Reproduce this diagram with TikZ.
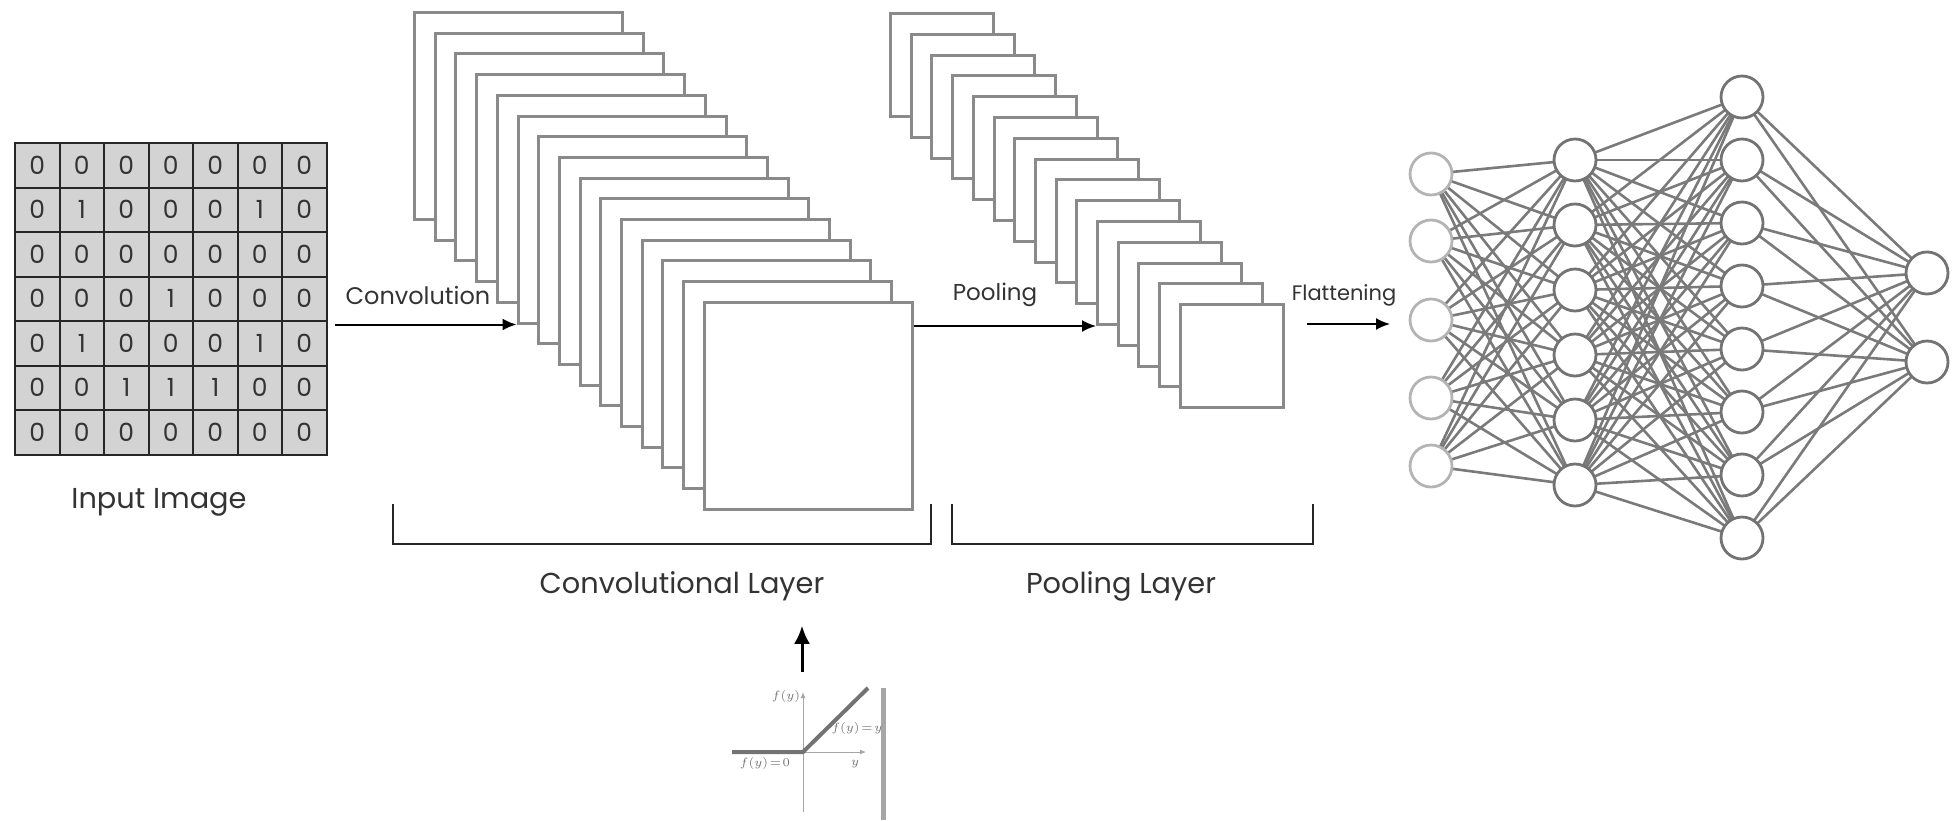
\documentclass[tikz,border=0pt]{standalone}
\usepackage{fontspec}
\setmainfont{Poppins}
\usetikzlibrary{arrows.meta}
\definecolor{mapgray}{HTML}{8A8A8A}
\definecolor{cellgray}{HTML}{D3D3D3}
\definecolor{wiregray}{HTML}{7A7A7A}
\definecolor{inputgray}{HTML}{B4B4B4}
\definecolor{textgray}{HTML}{333333}
\tikzset{
  fmap/.style={draw=mapgray, line width=1.5pt, fill=white, inner sep=0pt, anchor=north west},
  convmap/.style={fmap, minimum width=104pt, minimum height=103.5pt},
  poolmap/.style={fmap, minimum width=51.5pt, minimum height=51.5pt},
  cell/.style={draw=black!85, line width=1pt, fill=cellgray, minimum size=22.25pt, inner sep=0pt,
    font=\fontsize{12.5}{12.5}\selectfont, text=textgray},
  neuron/.style={circle, draw=black!55, line width=1.4pt, fill=white, minimum size=21pt, inner sep=0pt},
  synapse/.style={draw=wiregray, line width=1.3pt},
  flow/.style={-{Latex[length=7pt,width=6pt]}, line width=1pt},
  steplabel/.style={font=\fontsize{12}{12}\selectfont, text=textgray},
  layerlabel/.style={font=\fontsize{14.4}{14.4}\selectfont, text=textgray},
  bracket/.style={line width=1pt, black!85},
  relutext/.style={font=\fontsize{6.5}{6.5}\selectfont, text=black!55},
}
\begin{document}
\begin{tikzpicture}[x=0.5pt, y=-0.5pt]
  \useasboundingbox (0,0) rectangle (1952,820);
  % input image, 7x7 cells
  \foreach \row [count=\r from 0] in {{0,0,0,0,0,0,0},{0,1,0,0,0,1,0},{0,0,0,0,0,0,0},
      {0,0,0,1,0,0,0},{0,1,0,0,0,1,0},{0,0,1,1,1,0,0},{0,0,0,0,0,0,0}}
    \foreach \v [count=\c from 0] in \row
      \node[cell] (g-\r-\c) at ({37.25+44.5*\c},{165.25+44.5*\r}) {\v};
  \node[layerlabel] (inputlabel) at (159,502) {Input Image};
  % feature maps of the convolutional layer, back to front
  \foreach \k in {0,...,14}
    \node[convmap] (c\k) at ({413+20.7*\k},{11+20.7*\k}) {};
  % pooled maps
  \foreach \k in {0,...,14}
    \node[poolmap] (p\k) at ({889+20.7*\k},{12+20.8*\k}) {};
  \draw[flow, shorten <=3.5pt] (g-4-6.east |- c5.south west) -- (c5.south west);
  \draw[flow] (c14.east |- p10.south west) -- (p10.south west);
  \node[steplabel] (convlabel) at (418,295) {Convolution};
  \node[steplabel, font=\fontsize{11.5}{11.5}\selectfont] (poollabel) at (995,295) {Pooling};
  \node[steplabel, font=\fontsize{10.5}{10.5}\selectfont] (flatlabel) at (1344,295) {Flattening};
  \coordinate (flatstart) at (1307,324);
  \coordinate (flatend) at (1390,324);
  \draw[flow] (flatstart) -- (flatend);
  % brackets under the layers
  \draw[bracket] (393,504) -- (393,544) -- (931,544) -- (931,504);
  \draw[bracket] (952,504) -- (952,544) -- (1313,544) -- (1313,504);
  \node[layerlabel] (convlayer) at (682,586) {Convolutional Layer};
  \node[layerlabel] (poollayer) at (1121,586) {Pooling Layer};
  % ReLU inset
  \coordinate (origin) at (803,752);
  \coordinate (reluup) at (802,672);
  \draw[-{Latex[length=9pt,width=8pt]}, line width=1.5pt, shorten >=9pt] (reluup) -- (convlayer.south -| reluup);
  \draw[black!35, line width=0.5pt, -{Latex[length=3pt,width=2.5pt]}] (803,812) -- (803,692);
  \draw[black!35, line width=0.5pt, -{Latex[length=3pt,width=2.5pt]}] (732,752) -- (866,752);
  \draw[black!55, line width=2pt] (732,752) -- (origin) -- (868,688);
  \draw[black!35, line width=2.5pt] (883,688) -- (883,820);
  \node[relutext] (fy) at (786,696) {$f(y)$};
  \node[relutext] (fyy) at (857,728) {$f(y)\!=\!y$};
  \node[relutext] (fy0) at (765,763) {$f(y)\!=\!0$};
  \node[relutext] (yaxis) at (855,764) {$y$};
  % fully connected network
  \foreach \y [count=\i] in {174,241,320,398,466}
    \coordinate (a\i) at (1431,\y);
  \foreach \i in {1,...,6}
    \coordinate (b\i) at (1575,{160+65*(\i-1)});
  \foreach \i in {1,...,8}
    \coordinate (h\i) at (1742,{97+63*(\i-1)});
  \coordinate (o1) at (1927,273);
  \coordinate (o2) at (1927,362);
  \foreach \i in {1,...,5}
    \foreach \j in {1,...,6}
      \draw[synapse] (a\i) -- (b\j);
  \foreach \i in {1,...,6}
    \foreach \j in {1,...,8}
      \draw[synapse] (b\i) -- (h\j);
  \foreach \i in {1,...,8}
    \foreach \j in {1,2}
      \draw[synapse] (h\i) -- (o\j);
  \foreach \i in {1,...,5}
    \node[neuron, draw=inputgray] (na\i) at (a\i) {};
  \foreach \i in {1,...,6}
    \node[neuron] (nb\i) at (b\i) {};
  \foreach \i in {1,...,8}
    \node[neuron] (nh\i) at (h\i) {};
  \node[neuron] (no1) at (o1) {};
  \node[neuron] (no2) at (o2) {};
\end{tikzpicture}
\end{document}
